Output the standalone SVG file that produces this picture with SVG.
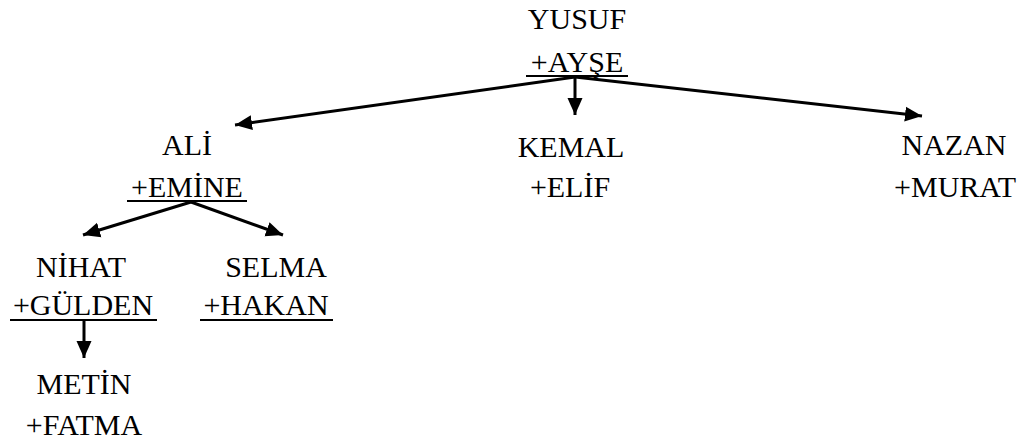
<svg xmlns="http://www.w3.org/2000/svg" width="1028" height="443" viewBox="0 0 1028 443">
<style>
text{font-family:"Liberation Serif","Times New Roman",serif;font-size:30px;fill:#000;text-anchor:middle}
.ul{stroke:#000;stroke-width:2}
.c{stroke:#000;stroke-width:3;fill:none}
</style>
<defs>
<marker id="ah" markerUnits="userSpaceOnUse" markerWidth="17" markerHeight="16" refX="17" refY="8" orient="auto">
<path d="M0,0.5 L17,8 L0,15.5 Z" fill="#000"/>
</marker>
</defs>
<rect width="1028" height="443" fill="#fff"/>
<g id="connectors">
<line class="c" x1="575" y1="77" x2="235" y2="125" marker-end="url(#ah)"/>
<line class="c" x1="575" y1="77" x2="575" y2="115" marker-end="url(#ah)"/>
<line class="c" x1="575" y1="77" x2="922" y2="116" marker-end="url(#ah)"/>
<line class="c" x1="191" y1="202" x2="83" y2="235" marker-end="url(#ah)"/>
<line class="c" x1="191" y1="202" x2="283" y2="235" marker-end="url(#ah)"/>
<line class="c" x1="84" y1="321" x2="84" y2="358" marker-end="url(#ah)"/>
</g>
<g id="yusuf">
<text x="577" y="29">YUSUF</text>
<text x="577" y="72">+AYŞE</text>
<line class="ul" x1="526" y1="76" x2="628" y2="76"/>
</g>
<g id="ali">
<text x="187" y="155">ALİ</text>
<text x="187" y="197">+EMİNE</text>
<line class="ul" x1="127" y1="201" x2="247" y2="201"/>
</g>
<g id="kemal">
<text x="571" y="157">KEMAL</text>
<text x="570" y="197">+ELİF</text>
</g>
<g id="nazan">
<text x="954" y="155">NAZAN</text>
<text x="955" y="197">+MURAT</text>
</g>
<g id="nihat">
<text x="81" y="277">NİHAT</text>
<text x="83" y="315">+GÜLDEN</text>
<line class="ul" x1="10" y1="320" x2="157" y2="320"/>
</g>
<g id="selma">
<text x="276" y="277">SELMA</text>
<text x="266" y="315">+HAKAN</text>
<line class="ul" x1="200" y1="320" x2="333" y2="320"/>
</g>
<g id="metin">
<text x="84" y="394">METİN</text>
<text x="84" y="435">+FATMA</text>
</g>
</svg>
